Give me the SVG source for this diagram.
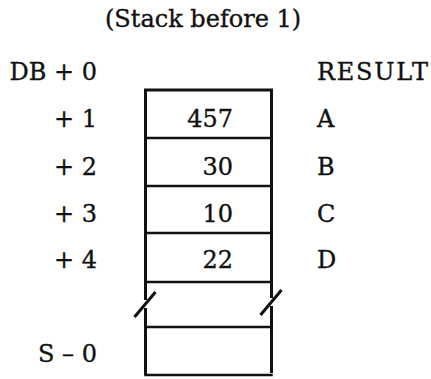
<svg xmlns="http://www.w3.org/2000/svg" width="431" height="379" viewBox="0 0 431 379">
<style>
text{font-family:"DejaVu Serif","Liberation Serif",serif;font-size:24px;fill:#111;stroke:#111;stroke-width:0.35}
.r{text-anchor:end}
.ln{stroke:#111;stroke-width:2.5;fill:none;stroke-linecap:square}
.v{stroke:#111;stroke-width:3;fill:none;stroke-linejoin:miter}
</style>
<defs>
<path id="brk" d="M0,282 V300 M10,292 L-11,317 M0,308 V375"/>
</defs>
<g id="title"><text x="105" y="27">(Stack before 1)</text></g>
<g id="labels-left">
<text class="r" x="97" y="80">DB + 0</text>
<text class="r" x="97" y="127">+ 1</text>
<text class="r" x="97" y="175">+ 2</text>
<text class="r" x="97" y="222">+ 3</text>
<text class="r" x="97" y="268">+ 4</text>
<text class="r" x="97" y="362">S – 0</text>
</g>
<g id="labels-right">
<text x="317" y="80" textLength="111" lengthAdjust="spacing">RESULT</text>
<text x="317" y="127">A</text>
<text x="317" y="175">B</text>
<text x="317" y="222">C</text>
<text x="317" y="268">D</text>
</g>
<g id="stack">
<path class="v" d="M145.5,282 V90 H271.5 V282"/>
<use href="#brk" class="v" transform="translate(145.5,0)"/>
<use href="#brk" class="v" transform="translate(271.5,-2)"/>
<path class="ln" d="M145.5,138 H271.5 M145.5,186 H271.5 M145.5,233 H271.5 M145.5,282 H271.5 M145.5,327 H271.5 M145.5,375 H271.5"/>
</g>
<g id="cells">
<text class="r" x="233" y="127">457</text>
<text class="r" x="233" y="175">30</text>
<text class="r" x="233" y="222">10</text>
<text class="r" x="233" y="268">22</text>
</g>
</svg>
